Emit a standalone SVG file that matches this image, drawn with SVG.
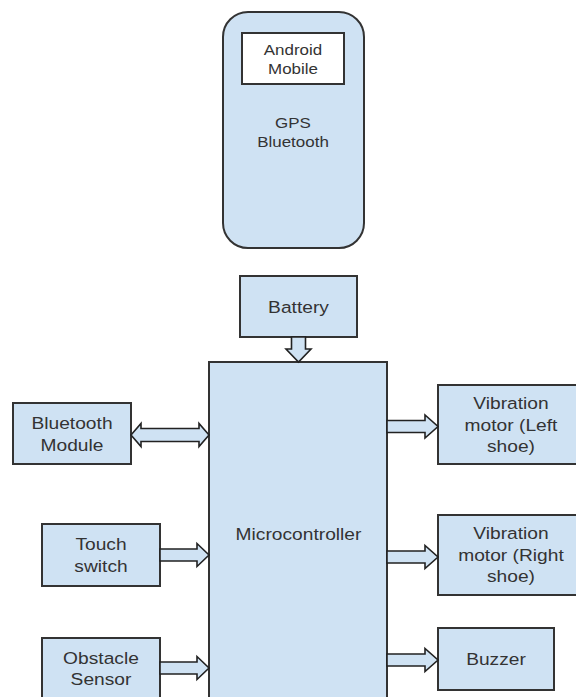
<svg xmlns="http://www.w3.org/2000/svg" width="576" height="697" viewBox="0 0 576 697">
<style>
.box{fill:#cfe2f3;stroke:#333;stroke-width:2}
.white{fill:#fff;stroke:#333;stroke-width:2}
.arr{fill:#cfe2f3;stroke:#222;stroke-width:1.6;stroke-linejoin:miter}
text{font-family:"Liberation Sans",Arial,sans-serif;font-size:17px;fill:#333;text-anchor:middle}
.sm{font-size:15px}
</style>
<rect width="576" height="697" fill="#fff"/>
<g id="phone">
<rect class="box" x="223" y="12" width="141" height="236" rx="25"/>
<rect class="white" x="242" y="33" width="102" height="51"/>
<text class="sm" transform="translate(293,55) scale(1.13,1)"><tspan x="0" y="0">Android</tspan><tspan x="0" y="19">Mobile</tspan></text>
<text class="sm" transform="translate(293,128) scale(1.13,1)"><tspan x="0" y="0">GPS</tspan><tspan x="0" y="19">Bluetooth</tspan></text>
</g>
<g id="battery">
<rect class="box" x="240" y="276" width="117" height="61"/>
<text transform="translate(298.5,313) scale(1.13,1)">Battery</text>
</g>
<g id="microcontroller">
<rect class="box" x="209" y="362" width="178" height="350"/>
<text transform="translate(298.5,540) scale(1.13,1)">Microcontroller</text>
</g>
<g id="bluetooth">
<rect class="box" x="13" y="403" width="118" height="61"/>
<text transform="translate(72,429) scale(1.13,1)"><tspan x="0" y="0">Bluetooth</tspan><tspan x="0" y="22">Module</tspan></text>
</g>
<g id="touch">
<rect class="box" x="42" y="524" width="118" height="62"/>
<text transform="translate(101,550) scale(1.13,1)"><tspan x="0" y="0">Touch</tspan><tspan x="0" y="22">switch</tspan></text>
</g>
<g id="obstacle">
<rect class="box" x="42" y="638" width="118" height="70"/>
<text transform="translate(101,664) scale(1.13,1)"><tspan x="0" y="0">Obstacle</tspan><tspan x="0" y="21">Sensor</tspan></text>
</g>
<g id="vib-left">
<rect class="box" x="438" y="385" width="150" height="79"/>
<text transform="translate(511,409) scale(1.13,1)"><tspan x="0" y="0">Vibration</tspan><tspan x="0" y="22">motor (Left</tspan><tspan x="0" y="43">shoe)</tspan></text>
</g>
<g id="vib-right">
<rect class="box" x="438" y="515" width="150" height="80"/>
<text transform="translate(511,539) scale(1.13,1)"><tspan x="0" y="0">Vibration</tspan><tspan x="0" y="22">motor (Right</tspan><tspan x="0" y="43">shoe)</tspan></text>
</g>
<g id="buzzer">
<rect class="box" x="438" y="628" width="116" height="62"/>
<text transform="translate(496,665) scale(1.13,1)">Buzzer</text>
</g>
<g id="connectors">
<polygon class="arr" points="291.5,337 305.5,337 305.5,349 311,349 298.5,362 286,349 291.5,349"/>
<polygon class="arr" points="131,435 141,423.5 141,428.5 199,428.5 199,423.5 209,435 199,446.5 199,441.5 141,441.5 141,446.5"/>
<polygon class="arr" points="160,549 197,549 197,543.5 209,555 197,566.5 197,561 160,561"/>
<polygon class="arr" points="160,662 197,662 197,656.5 209,668 197,679.5 197,674 160,674"/>
<polygon class="arr" points="387,420.5 425,420.5 425,415 438,426.5 425,438 425,432.5 387,432.5"/>
<polygon class="arr" points="387,551 425,551 425,545.5 438,557 425,568.5 425,563 387,563"/>
<polygon class="arr" points="387,654 425,654 425,648.5 438,660 425,671.5 425,666 387,666"/>
</g>
</svg>
